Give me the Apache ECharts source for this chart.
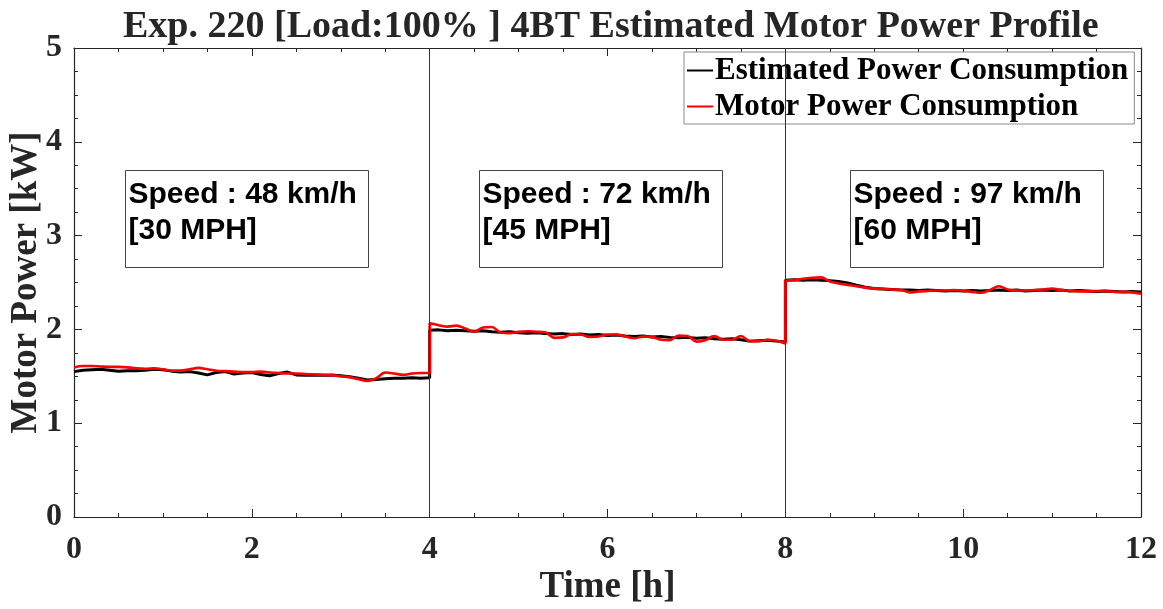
<!DOCTYPE html>
<html>
<head>
<meta charset="utf-8">
<title>Exp. 220 Estimated Motor Power Profile</title>
<script src="https://cdn.jsdelivr.net/npm/echarts@6/dist/echarts.min.js"></script>
<style>
  html, body { margin: 0; padding: 0; background: #ffffff; }
  #chart { width: 1163px; height: 609px; }
</style>
</head>
<body>
<div id="chart"></div>
<script>
// Samples are taken every 0.1 h; each speed stage lasts 4 h.
const sampleStep = 0.1;
const stageStarts = [0, 4, 8];
const stageBoundaries = [4, 8];

// Estimated power consumption [kW], one array per speed stage
const estStage1 = [
  1.550, 1.565, 1.570, 1.575, 1.565, 1.555, 1.560, 1.560, 1.565, 1.575,
  1.570, 1.555, 1.545, 1.550, 1.535, 1.515, 1.540, 1.550, 1.525, 1.535,
  1.540, 1.520, 1.505, 1.530, 1.545, 1.515, 1.510, 1.515, 1.510, 1.515,
  1.505, 1.495, 1.480, 1.460, 1.465, 1.475, 1.480, 1.480, 1.485, 1.480,
  1.485
];
const estStage2 = [
  1.990, 1.995, 1.985, 1.990, 1.985, 1.980, 1.985, 1.975, 1.970, 1.975,
  1.965, 1.960, 1.965, 1.955, 1.950, 1.955, 1.945, 1.950, 1.940, 1.945,
  1.935, 1.940, 1.930, 1.925, 1.930, 1.920, 1.925, 1.915, 1.910, 1.915,
  1.905, 1.910, 1.900, 1.895, 1.900, 1.890, 1.875, 1.880, 1.885, 1.875,
  1.865
];
const estStage3 = [
  2.525, 2.530, 2.525, 2.530, 2.525, 2.520, 2.510, 2.495, 2.470, 2.450,
  2.435, 2.430, 2.425, 2.420, 2.420, 2.415, 2.420, 2.415, 2.410, 2.415,
  2.410, 2.415, 2.410, 2.415, 2.420, 2.415, 2.420, 2.410, 2.415, 2.420,
  2.415, 2.420, 2.410, 2.415, 2.410, 2.405, 2.410, 2.405, 2.400, 2.405,
  2.400
];

// Measured motor power consumption [kW], one array per speed stage
const motorStage1 = [
  1.595, 1.610, 1.610, 1.605, 1.600, 1.600, 1.595, 1.585, 1.580, 1.585,
  1.575, 1.560, 1.560, 1.575, 1.590, 1.575, 1.560, 1.555, 1.550, 1.545,
  1.545, 1.550, 1.540, 1.535, 1.530, 1.530, 1.525, 1.520, 1.515, 1.510,
  1.500, 1.490, 1.470, 1.450, 1.480, 1.540, 1.530, 1.515, 1.530, 1.535,
  1.535
];
const motorStage2 = [
  2.065, 2.045, 2.030, 2.040, 2.010, 1.975, 2.020, 2.025, 1.965, 1.960,
  1.975, 1.980, 1.975, 1.970, 1.910, 1.915, 1.950, 1.945, 1.920, 1.925,
  1.945, 1.945, 1.925, 1.905, 1.925, 1.920, 1.890, 1.885, 1.935, 1.930,
  1.870, 1.885, 1.930, 1.890, 1.890, 1.930, 1.875, 1.875, 1.890, 1.880,
  1.850
];
const motorStage3 = [
  2.520, 2.525, 2.540, 2.550, 2.555, 2.510, 2.490, 2.475, 2.460, 2.445,
  2.435, 2.430, 2.425, 2.420, 2.395, 2.405, 2.410, 2.415, 2.415, 2.420,
  2.410, 2.400, 2.390, 2.420, 2.460, 2.425, 2.415, 2.415, 2.420, 2.425,
  2.435, 2.420, 2.410, 2.405, 2.405, 2.410, 2.410, 2.400, 2.400, 2.395,
  2.380
];

// Speed labels of the three stages
const stageLabels = [
  ['Speed : 48 km/h', '[30 MPH]'],
  ['Speed : 72 km/h', '[45 MPH]'],
  ['Speed : 97 km/h', '[60 MPH]']
];

const xTicks = { min: 0, max: 12, interval: 2 };
const yTicks = { min: 0, max: 5, interval: 1 };

// Join the stage arrays into [hour, kW] pairs
function toPairs(stages) {
  const out = [];
  stages.forEach(function (vals, s) {
    vals.forEach(function (v, i) {
      out.push([+(stageStarts[s] + i * sampleStep).toFixed(2), v]);
    });
  });
  return out;
}
const estimated = toPairs([estStage1, estStage2, estStage3]);
const motor = toPairs([motorStage1, motorStage2, motorStage3]);

const serif = "'Liberation Serif', 'Times New Roman', 'DejaVu Serif', serif";
const sans = "'Liberation Sans', Arial, 'DejaVu Sans', sans-serif";
const ink = '#262626';

function frameAxis(extra) {
  return Object.assign({
    axisLine: { show: true, onZero: false, lineStyle: { color: ink, width: 1.2 } },
    axisTick: { show: true, inside: true, length: 8, lineStyle: { color: ink, width: 1 } },
    minorTick: { show: true, splitNumber: 4, length: 4, lineStyle: { color: ink, width: 1 } },
    splitLine: { show: false },
    axisLabel: { show: false }
  }, extra);
}

const chart = echarts.init(document.getElementById('chart'), null, { renderer: 'canvas' });

const boxes = stageLabels.map(function (lines, i) {
  const pos = [[125, 170, 243], [479, 170, 243], [850, 170, 253]][i];
  return {
    type: 'group',
    left: pos[0],
    top: pos[1],
    children: [
      {
        type: 'rect',
        shape: { x: 0, y: 0, width: pos[2], height: 97 },
        style: { fill: '#ffffff', stroke: '#444444', lineWidth: 1 }
      },
      {
        type: 'text',
        x: 3,
        y: 6,
        style: {
          text: lines.join('\n'),
          font: 'bold 30px ' + sans,
          fill: '#000000',
          lineHeight: 36
        }
      }
    ]
  };
});

chart.setOption({
  animation: false,
  backgroundColor: '#ffffff',
  title: {
    text: 'Exp. 220 [Load:100% ] 4BT Estimated Motor Power Profile',
    left: 118,
    top: 3,
    textStyle: { fontFamily: serif, fontWeight: 'bold', fontSize: 38, color: ink }
  },
  grid: { left: 74, right: 22, top: 48, bottom: 92, containLabel: false, outerBoundsMode: 'none' },
  legend: {
    orient: 'vertical',
    left: 684,
    top: 52,
    padding: [3, 6, 2, 3],
    itemGap: 5,
    itemWidth: 26,
    itemHeight: 2,
    icon: 'rect',
    backgroundColor: '#ffffff',
    borderColor: '#8a8a8a',
    borderWidth: 1,
    textStyle: { fontFamily: serif, fontWeight: 'bold', fontSize: 31, color: '#000000', padding: [0, 0, 0, -3] },
    data: ['Estimated Power Consumption', 'Motor Power Consumption']
  },
  xAxis: [
    frameAxis({
      type: 'value', position: 'bottom',
      min: xTicks.min, max: xTicks.max, interval: xTicks.interval,
      name: 'Time [h]', nameLocation: 'middle', nameGap: 52, nameMoveOverlap: false,
      nameTextStyle: { fontFamily: serif, fontWeight: 'bold', fontSize: 37, color: ink },
      axisLabel: { show: true, margin: 17, fontFamily: serif, fontWeight: 'bold', fontSize: 32, color: ink }
    }),
    frameAxis({
      type: 'value', position: 'top',
      min: xTicks.min, max: xTicks.max, interval: xTicks.interval
    })
  ],
  yAxis: [
    frameAxis({
      type: 'value', position: 'left',
      min: yTicks.min, max: yTicks.max, interval: yTicks.interval,
      name: 'Motor Power [kW]', nameLocation: 'middle', nameGap: 29, nameRotate: 90, nameMoveOverlap: false,
      nameTextStyle: { fontFamily: serif, fontWeight: 'bold', fontSize: 37, color: ink },
      axisLabel: { show: true, margin: 12, fontFamily: serif, fontWeight: 'bold', fontSize: 32, color: ink }
    }),
    frameAxis({
      type: 'value', position: 'right',
      min: yTicks.min, max: yTicks.max, interval: yTicks.interval
    })
  ],
  series: [
    {
      name: 'Estimated Power Consumption',
      type: 'line',
      data: estimated,
      showSymbol: false,
      smooth: false,
      color: '#000000',
      lineStyle: { color: '#000000', width: 3 },
      z: 3,
      markLine: {
        silent: true,
        symbol: 'none',
        label: { show: false },
        lineStyle: { color: '#333333', width: 1, type: 'solid' },
        data: stageBoundaries.map(function (h) { return { xAxis: h }; })
      }
    },
    {
      name: 'Motor Power Consumption',
      type: 'line',
      data: motor,
      showSymbol: false,
      smooth: 0.35,
      color: '#ff0000',
      lineStyle: { color: '#ff0000', width: 2.6 },
      z: 4
    }
  ],
  graphic: boxes
});
</script>
</body>
</html>
